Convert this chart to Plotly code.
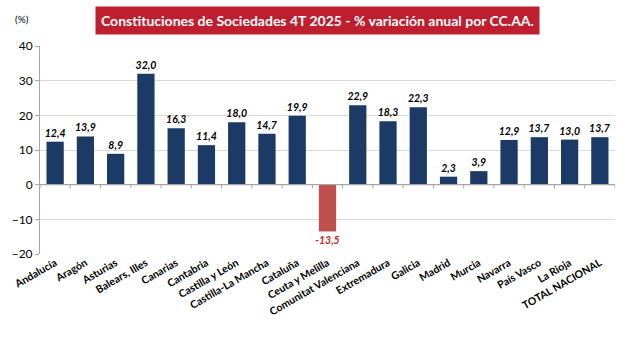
import plotly.graph_objects as go

regiones = ["Andalucía", "Aragón", "Asturias", "Balears, Illes", "Canarias", "Cantabria",
            "Castilla y León", "Castilla-La Mancha", "Cataluña", "Ceuta y Melilla",
            "Comunitat Valenciana", "Extremadura", "Galicia", "Madrid", "Murcia", "Navarra",
            "País Vasco", "La Rioja", "TOTAL NACIONAL"]
variacion = [12.4, 13.9, 8.9, 32.0, 16.3, 11.4, 18.0, 14.7, 19.9, -13.5,
             22.9, 18.3, 22.3, 2.3, 3.9, 12.9, 13.7, 13.0, 13.7]
y_ticks = [-20, -10, 0, 10, 20, 30, 40]

AZUL = "#1B3A66"
ROJO = "#C0504D"
bar_colors = [AZUL if v >= 0 else ROJO for v in variacion]
label_colors = ["#000000" if v >= 0 else "#C0282D" for v in variacion]

FONT = "Lato, 'Open Sans', sans-serif"

fig = go.Figure(go.Bar(
    x=regiones, y=variacion,
    marker=dict(color=bar_colors, line=dict(width=0)),
    texttemplate="<b><i>%{y:.1f}</i></b>",
    textposition="outside",
    constraintext="none",
    textfont=dict(family=FONT, size=10.5, color=label_colors),
    cliponaxis=False,
))

# category separators on the zero axis
n = len(regiones)
shapes = [dict(type="line", xref="x", yref="y", x0=-0.5, x1=n - 0.5, y0=0, y1=0,
               line=dict(color="#A6A6A6", width=1.2), layer="above")]
for i in range(n + 1):
    shapes.append(dict(type="line", xref="x", yref="paper", x0=i - 0.5, x1=i - 0.5,
                       y0=20 / 60, y1=20 / 60 - 0.018, line=dict(color="#A6A6A6", width=1)))

fig.update_layout(
    width=629, height=343,
    margin=dict(l=33, r=14, t=46, b=89),
    paper_bgcolor="white", plot_bgcolor="white",
    separators=",.",
    showlegend=False,
    bargap=0.43,
    shapes=shapes,
    font=dict(family=FONT, color="#000000"),
    xaxis=dict(
        tickangle=-30, tickfont=dict(family=FONT, size=10.5, color="#000000"),
        showgrid=False, showline=False, ticks="", range=[-0.5, n - 0.5],
        tickprefix="<b>", ticksuffix="</b>",
    ),
    yaxis=dict(
        range=[-20, 40], tickvals=y_ticks, showgrid=True, gridcolor="#D9D9D9", gridwidth=1,
        zeroline=False, showline=True, linecolor="#A6A6A6", linewidth=1,
        ticks="outside", ticklen=4, tickcolor="#A6A6A6",
        tickfont=dict(family=FONT, size=12, color="#000000"),
        tickprefix="<b>", ticksuffix="</b>",
    ),
    annotations=[
        dict(text="<b>Constituciones de Sociedades 4T 2025 - % variación anual por CC.AA.</b>",
             xref="paper", yref="paper", x=0.483, y=(254 - 20) / 208,
             xanchor="center", yanchor="middle", showarrow=False,
             font=dict(family=FONT, size=14, color="white"),
             bgcolor="#BE1E2D", borderpad=5),
        dict(text="(%)", xref="paper", yref="paper", x=-27 / 582, y=(254 - 19) / 208,
             xanchor="left", yanchor="middle", showarrow=False,
             font=dict(family=FONT, size=10, color="#000000")),
    ],
)

fig.write_html("out.html")
